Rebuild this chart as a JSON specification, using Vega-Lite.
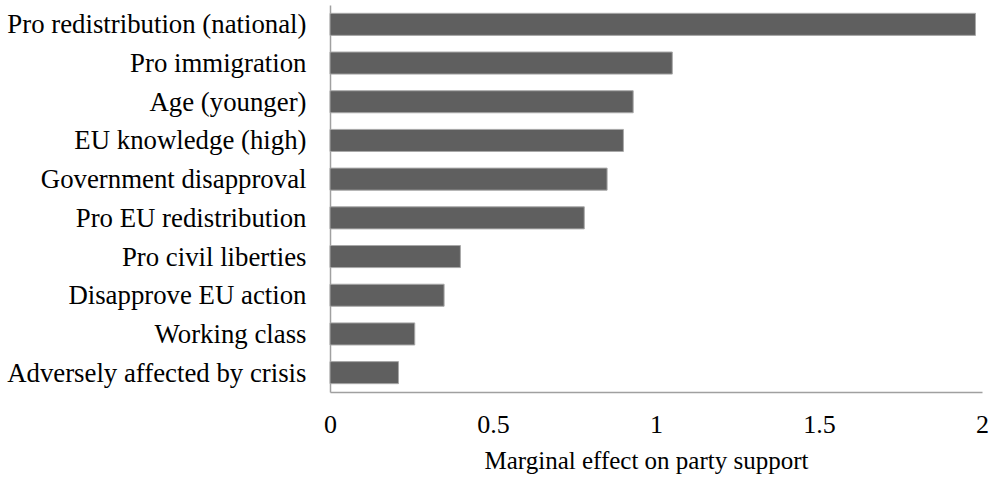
{
  "$schema": "https://vega.github.io/schema/vega-lite/v6.json",
  "autosize": "none",
  "padding": {"left": 330, "top": 5, "right": 8, "bottom": 90},
  "width": 652,
  "height": 387,
  "background": "white",
  "config": {"view": {"stroke": null}, "font": "Liberation Serif"},
  "data": {"values": [
    {"factor": "Pro redistribution (national)", "effect": 1.98},
    {"factor": "Pro immigration", "effect": 1.05},
    {"factor": "Age (younger)", "effect": 0.93},
    {"factor": "EU knowledge (high)", "effect": 0.90},
    {"factor": "Government disapproval", "effect": 0.85},
    {"factor": "Pro EU redistribution", "effect": 0.78},
    {"factor": "Pro civil liberties", "effect": 0.40},
    {"factor": "Disapprove EU action", "effect": 0.35},
    {"factor": "Working class", "effect": 0.26},
    {"factor": "Adversely affected by crisis", "effect": 0.21}
  ]},
  "mark": {"type": "bar", "color": "#5f5f5f", "stroke": "#a8a8a8", "strokeWidth": 1},
  "encoding": {
    "y": {
      "field": "factor", "type": "nominal", "sort": null,
      "scale": {"paddingInner": 0.43, "paddingOuter": 0.215},
      "axis": {"title": null, "ticks": false, "domainColor": "#a0a0a0", "domainWidth": 1.5,
               "labelFont": "Liberation Serif", "labelFontSize": 26.8, "labelColor": "#000000",
               "labelPadding": 24, "labelLimit": 400, "labelOffset": 1}
    },
    "x": {
      "field": "effect", "type": "quantitative",
      "scale": {"domain": [0, 2], "nice": false},
      "axis": {"values": [0, 0.5, 1, 1.5, 2], "labelExpr": "toString(datum.value)",
               "grid": false, "ticks": false,
               "domainColor": "#a0a0a0", "domainWidth": 1.5,
               "labelFont": "Liberation Serif", "labelFontSize": 26, "labelColor": "#000000",
               "labelPadding": 19, "labelFlush": false,
               "title": "Marginal effect on party support", "titleFont": "Liberation Serif",
               "titleFontSize": 25, "titleFontWeight": "normal", "titleColor": "#000000",
               "titlePadding": 11, "titleX": 316}
    }
  }
}
